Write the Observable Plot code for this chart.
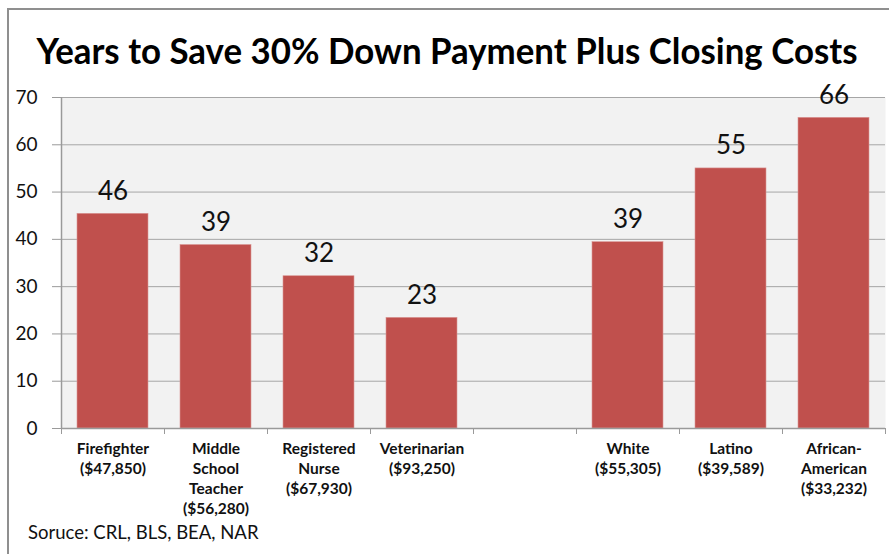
<!DOCTYPE html>
<html><head><meta charset="utf-8">
<script src="https://cdn.jsdelivr.net/npm/d3@7"></script>
<script src="https://cdn.jsdelivr.net/npm/@observablehq/plot@0.6"></script>
<style>
body{margin:0;background:#fff;}
#wrap{position:relative;width:889px;height:554px;overflow:hidden;font-family:Lato,sans-serif;}
#border{position:absolute;left:7px;top:8px;width:900px;height:600px;border-left:2px solid #8f8f8f;border-top:2px solid #8f8f8f;box-sizing:border-box;}
#chart{position:absolute;left:0;top:0;}
#title{position:absolute;left:0;top:0;}
#source{position:absolute;left:28px;top:521px;font-size:18.5px;color:#111;white-space:nowrap;}
</style></head>
<body>
<div id="wrap">
  <div id="border"></div>
  <div id="chart"></div>
  <svg id="title" width="889" height="90"><text x="447" y="64" text-anchor="middle" font-family="Lato" font-weight="bold" font-size="36" fill="#000" textLength="821" lengthAdjust="spacingAndGlyphs">Years to Save 30% Down Payment Plus Closing Costs</text></svg>
  <div id="source">Soruce: CRL, BLS, BEA, NAR</div>
</div>
<script>
const categories = ["Firefighter", "Middle School Teacher", "Registered Nurse", "Veterinarian", "(blank)", "White", "Latino", "African-American"];
const tickLabels = ["Firefighter\n($47,850)", "Middle\nSchool\nTeacher\n($56,280)", "Registered\nNurse\n($67,930)", "Veterinarian\n($93,250)", "", "White\n($55,305)", "Latino\n($39,589)", "African-\nAmerican\n($33,232)"];
const values = [45.4, 38.8, 32.2, 23.4, null, 39.4, 55.0, 65.7];
const valueLabels = ["46", "39", "32", "23", "", "39", "55", "66"];
const yTicks = [0, 10, 20, 30, 40, 50, 60, 70];

const data = categories.map((c, i) => ({category: c, value: values[i], label: valueLabels[i], tick: tickLabels[i]}));
const bars = data.filter(d => d.value != null);

const W = 889, H = 554, mL = 61, mR = 4, mT = 97, mB = 126;
const step = (W - mL - mR) / categories.length;
const tickMap = new Map(categories.map((c, i) => [c, tickLabels[i]]));

const chart = Plot.plot({
  width: W, height: H,
  marginLeft: mL, marginRight: mR, marginTop: mT, marginBottom: mB,
  style: {background: "transparent", fontFamily: "Lato, sans-serif", color: "#111"},
  x: {domain: categories, paddingInner: 0.312, paddingOuter: 0.156},
  y: {domain: [0, 70], ticks: yTicks},
  marks: [
    Plot.frame({fill: "#f2f2f2", stroke: null}),
    Plot.ruleY(yTicks.filter(d => d > 0), {stroke: "#a6a6a6", strokeWidth: 1}),
    Plot.barY(bars, {x: "category", y: "value", fill: "#c0504d", stroke: "#d99694", strokeWidth: 0.6}),
    Plot.text(bars, {x: "category", y: "value", text: "label", dy: -14, lineAnchor: "bottom", fontSize: 26, fill: "#111"}),
    Plot.ruleY([0], {stroke: "#9a9a9a", strokeWidth: 1.5}),
    Plot.ruleX(categories.slice(0, 1), {x: d => d, dx: -step / 2, stroke: "#9a9a9a", strokeWidth: 1.5}),
    Plot.ruleX(categories, {x: d => d, y1: 0, y2: 0, dx: -step / 2, insetBottom: -6, stroke: "#9a9a9a"}),
    Plot.ruleX(categories.slice(-1), {x: d => d, y1: 0, y2: 0, dx: step / 2, insetBottom: -6, stroke: "#9a9a9a"}),
    Plot.axisY({ticks: yTicks, tickSize: 9, tickPadding: 15, fontSize: 19, stroke: "#9a9a9a", fill: "#111", label: null}),
    Plot.axisX({tickSize: 0, tickPadding: 11, fontSize: 15.5, fontWeight: "bold", lineHeight: 1.3, tickFormat: d => tickMap.get(d), fill: "#111", label: null})
  ]
});
document.getElementById("chart").appendChild(chart);
</script>
</body></html>
